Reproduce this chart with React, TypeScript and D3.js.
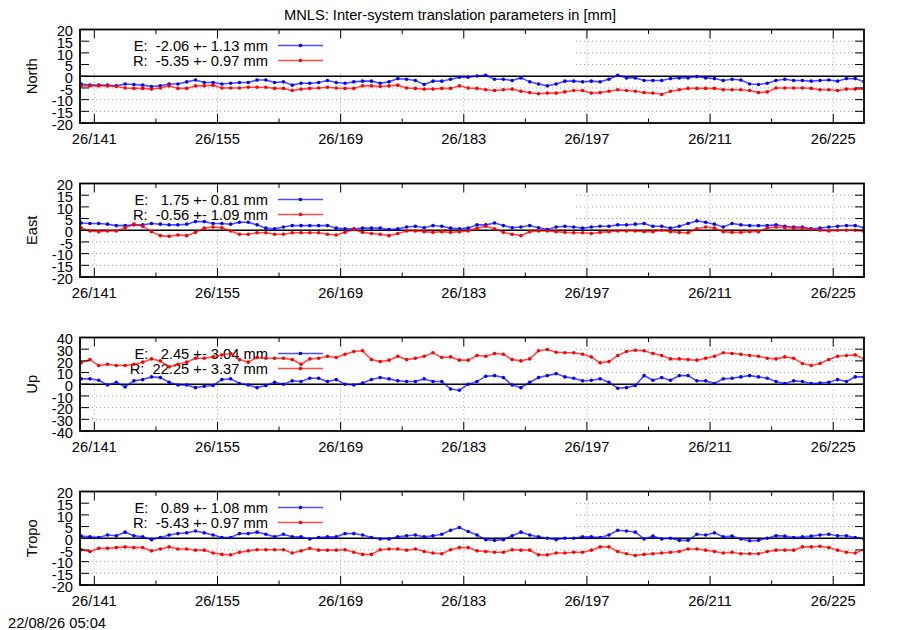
import * as d3 from 'd3';

// day of year (2026), samples taken at noon
const days = [
  139, 140, 141, 142, 143, 144, 145, 146, 147, 148, 149, 150, 151, 152, 153, 154, 155, 156, 157, 158,
  159, 160, 161, 162, 163, 164, 165, 166, 167, 168, 169, 170, 171, 172, 173, 174, 175, 176, 177, 178,
  179, 180, 181, 182, 183, 184, 185, 186, 187, 188, 189, 190, 191, 192, 193, 194, 195, 196, 197, 198,
  199, 200, 201, 202, 203, 204, 205, 206, 207, 208, 209, 210, 211, 212, 213, 214, 215, 216, 217, 218,
  219, 220, 221, 222, 223, 224, 225, 226, 227, 228,
];

const northE = [
  -3.3, -3.8, -3.8, -3.8, -4.1, -3.3, -3.5, -3.8, -4.4, -4.1, -3.3, -3.3, -2.4, -1.6, -2.7, -2.7, -3.3, -3.0, -2.7, -2.7,
  -1.6, -1.6, -2.7, -2.4, -3.8, -3.0, -3.0, -2.7, -1.8, -2.7, -3.0, -2.4, -2.1, -2.1, -3.0, -2.4, -1.0, -1.3, -1.8, -3.5,
  -2.1, -2.1, -1.3, -0.4, -0.4, 0.1, 0.4, -1.3, -1.3, -1.8, -0.7, -2.4, -3.3, -4.1, -3.3, -2.1, -2.1, -2.4, -2.1, -2.4,
  -1.3, 0.4, -0.7, -0.7, -1.8, -1.8, -1.8, -1.0, -0.7, -0.7, -0.1, -0.7, -1.0, -1.8, -1.3, -1.6, -3.3, -3.5, -3.0, -1.8,
  -1.3, -1.8, -1.8, -2.1, -1.8, -1.6, -2.1, -1.0, -1.0, -2.4,
];
const northR = [
  -4.1, -4.1, -4.1, -4.1, -4.4, -5.0, -5.2, -5.2, -5.5, -5.0, -4.1, -5.2, -5.2, -4.1, -4.1, -3.8, -5.0, -5.0, -5.0, -4.7,
  -4.7, -4.7, -5.2, -5.2, -6.1, -5.5, -5.2, -5.0, -4.7, -5.0, -5.2, -5.2, -4.1, -4.1, -4.4, -4.1, -3.8, -5.0, -5.2, -5.5,
  -5.5, -5.2, -5.2, -4.1, -5.0, -5.2, -5.8, -6.1, -5.8, -5.5, -6.4, -7.0, -7.5, -7.2, -7.2, -6.7, -6.1, -6.1, -7.2, -7.0,
  -6.4, -5.8, -6.1, -6.4, -7.0, -7.2, -7.8, -6.4, -5.8, -5.2, -5.2, -5.2, -5.2, -5.8, -5.8, -5.8, -6.1, -7.0, -6.7, -5.0,
  -5.0, -5.0, -5.0, -5.2, -5.8, -5.8, -6.1, -5.5, -5.5, -5.5,
];
const eastE = [
  3.1, 2.9, 2.9, 2.6, 2.0, 2.0, 2.3, 2.3, 2.9, 2.6, 2.3, 2.3, 2.6, 3.7, 3.7, 2.9, 2.9, 2.6, 3.4, 3.4,
  2.3, 0.9, 0.6, 1.4, 2.0, 2.0, 2.0, 2.0, 2.0, 0.9, 0.6, 0.6, 0.9, 0.9, 0.9, 0.3, 0.6, 1.4, 1.7, 1.1,
  2.0, 1.7, 0.9, 0.6, 0.9, 2.3, 2.3, 3.1, 2.0, 1.1, 1.4, 2.0, 1.1, 0.3, 1.4, 1.7, 1.4, 0.9, 1.4, 1.7,
  1.7, 2.3, 2.3, 2.6, 2.9, 1.7, 1.7, 0.9, 1.7, 2.9, 4.0, 3.4, 2.6, 1.4, 2.9, 2.3, 2.0, 2.0, 2.0, 2.3,
  1.7, 1.4, 1.4, 0.6, 0.9, 1.4, 1.7, 2.0, 2.0, 1.1,
];
const eastR = [
  1.1, -0.3, -0.6, -0.3, -0.3, 1.1, 2.6, 1.7, -0.6, -2.3, -2.6, -2.0, -2.3, -0.9, 0.9, 1.4, 1.1, -0.3, -1.7, -1.7,
  -1.1, -1.1, -1.7, -1.7, -1.1, -1.1, -1.1, -1.1, -1.7, -2.0, -0.9, 0.3, -0.9, -1.4, -1.7, -2.3, -1.4, -0.3, -0.3, -0.6,
  -0.9, -0.6, -0.9, -0.6, -0.3, 0.9, 1.7, 0.6, -0.9, -1.7, -2.3, -0.6, -0.3, -0.3, -0.6, -0.9, -1.1, -1.1, -1.4, -0.9,
  -0.6, -0.3, -0.3, -0.3, -0.6, -0.6, 0.0, -0.6, -0.9, -1.1, 0.6, 1.4, 0.9, -0.6, -0.9, -0.9, -0.6, -0.6, 0.9, 1.4,
  1.1, 0.9, 0.9, 0.3, 0.0, -0.3, 0.0, 0.0, 0.0, -0.6,
];
const upE = [
  4.6, 4.6, 3.4, -0.6, 1.7, -2.3, 2.9, 4.0, 6.3, 5.7, 1.7, -0.6, -0.6, -2.9, -1.7, -1.1, 4.0, 4.6, 0.6, -0.6,
  -2.9, -1.1, 1.7, 0.0, 2.9, 2.3, 5.1, 5.1, 2.3, 4.0, 0.0, -0.6, 1.1, 4.0, 5.7, 4.6, 2.9, 2.3, 2.3, 4.6,
  2.3, 2.3, -4.0, -5.1, 0.0, 2.3, 6.9, 7.4, 5.7, -0.6, -2.9, 1.7, 5.7, 7.4, 9.1, 6.3, 5.1, 2.9, 3.4, 4.6,
  1.7, -3.4, -2.9, -1.1, 7.4, 3.4, 5.7, 3.4, 7.4, 7.4, 2.9, 2.9, 0.6, 4.6, 5.1, 6.3, 7.4, 6.3, 5.1, 2.3,
  0.6, 2.9, 2.3, 0.6, 1.1, 1.7, 4.0, 2.3, 6.3, 6.3,
];
const upR = [
  18.3, 21.1, 16.0, 17.1, 16.0, 16.0, 17.1, 18.9, 21.7, 20.0, 14.9, 17.1, 18.9, 22.3, 22.3, 23.4, 25.1, 26.3, 21.1, 18.9,
  22.9, 22.3, 22.3, 22.3, 21.1, 17.1, 21.7, 22.3, 24.0, 22.9, 25.7, 28.0, 28.6, 21.1, 19.4, 20.6, 24.0, 21.1, 22.3, 24.0,
  26.9, 22.9, 23.4, 20.6, 20.6, 24.6, 24.0, 26.3, 25.7, 21.1, 20.0, 21.7, 28.6, 29.7, 27.4, 26.9, 26.9, 25.7, 23.4, 18.3,
  19.4, 24.6, 28.0, 29.1, 28.6, 26.3, 24.6, 21.7, 21.7, 21.1, 20.6, 22.3, 24.0, 26.9, 26.3, 25.7, 24.6, 24.0, 22.3, 21.7,
  23.4, 22.3, 17.7, 16.0, 17.7, 21.1, 24.0, 24.6, 25.1, 21.7,
];
const tropoE = [
  0.9, 0.6, 0.3, 1.4, 1.1, 2.6, 1.1, 0.6, -0.6, 0.3, 1.4, 2.0, 2.3, 3.1, 2.3, 1.4, 0.3, 0.3, 2.0, 2.0,
  2.6, 1.7, 0.6, 1.7, 0.6, 0.6, -0.3, 0.3, 0.6, 0.6, 2.0, 2.0, 1.4, 0.3, -0.3, -0.3, 0.6, 1.1, 1.4, 0.6,
  1.1, 1.7, 3.4, 4.6, 2.9, 1.4, -0.6, -0.9, -0.6, 1.1, 2.6, 1.4, 0.6, 0.0, -0.6, 0.0, 0.0, 0.6, 0.6, 0.3,
  1.4, 3.4, 3.1, 2.6, -0.3, 0.9, -0.3, 0.0, -0.9, -0.9, 1.7, 1.4, 2.3, 0.6, 0.9, -0.3, -1.1, -0.9, 0.0, 1.1,
  0.9, 0.3, 0.6, 0.9, 1.4, 1.7, 1.1, 1.1, 0.3, -0.3,
];
const tropoR = [
  -4.9, -5.7, -4.3, -4.3, -4.0, -3.7, -4.0, -4.0, -5.4, -4.6, -3.7, -4.6, -4.6, -5.1, -5.1, -6.3, -6.9, -7.1, -6.0, -5.4,
  -4.9, -4.9, -4.9, -4.9, -6.3, -5.4, -4.3, -5.1, -5.1, -5.1, -4.9, -6.0, -6.9, -6.9, -4.9, -4.6, -4.6, -5.1, -4.6, -5.7,
  -6.3, -6.6, -4.9, -4.0, -4.0, -5.4, -5.7, -6.0, -6.0, -4.9, -5.1, -5.1, -7.1, -7.1, -6.3, -6.3, -6.0, -6.0, -5.1, -3.7,
  -3.7, -5.7, -6.6, -7.4, -6.9, -6.6, -6.3, -6.0, -5.7, -4.6, -4.6, -5.1, -5.7, -6.3, -6.0, -6.6, -6.6, -6.6, -5.7, -5.1,
  -5.1, -5.1, -3.7, -3.7, -3.4, -4.0, -5.1, -6.0, -6.3, -4.9,
];

const panelNames = ['North', 'East', 'Up', 'Tropo'];
const seriesE = [northE, eastE, upE, tropoE];
const seriesR = [northR, eastR, upR, tropoR];
const legendE = ['E:  -2.06 +- 1.13 mm', 'E:   1.75 +- 0.81 mm', 'E:   2.45 +- 3.04 mm', 'E:   0.89 +- 1.08 mm'];
const legendR = ['R:  -5.35 +- 0.97 mm', 'R:  -0.56 +- 1.09 mm', 'R:  22.25 +- 3.37 mm', 'R:  -5.43 +- 0.97 mm'];
const yLimits = [20, 20, 40, 20];
const yStep = [5, 5, 10, 5];
const majorDays = [141, 155, 169, 183, 197, 211, 225];
const minorDays = [148, 162, 176, 190, 204, 218];

const title = 'MNLS: Inter-system translation parameters in [mm]';
const stamp = '22/08/26 05:04';

const W = 900;
const H = 630;
const left = 80;
const right = 864;
const panelTops = [29.5, 183.5, 337.5, 491.5];
const panelH = 93.5;
const font = '"Liberation Sans", Arial, Helvetica, sans-serif';
const fs = 14.7;
const blue = '#0000ff';
const red = '#ff0000';

const x = d3.scaleLinear().domain([139.37, 228.5]).range([left, right]);

function Panel({ k }: { k: number }) {
  const top = panelTops[k];
  const bottom = top + panelH;
  const lim = yLimits[k];
  const y = d3.scaleLinear().domain([-lim, lim]).range([bottom, top]);
  const yTicks = d3.range(-lim, lim + 0.001, yStep[k]);
  const line = d3
    .line<number>()
    .x((_, i) => x(days[i] + 0.5))
    .y((v) => y(v));
  const clipId = `clip-${k}`;
  const legendRight = 268;
  const rows = [
    { label: legendE[k], color: blue, dy: 16 },
    { label: legendR[k], color: red, dy: 31 },
  ];

  return (
    <g>
      <defs>
        <clipPath id={clipId}>
          <rect x={left} y={top} width={right - left} height={panelH} />
        </clipPath>
      </defs>
      {/* grid */}
      <g stroke="#a0a0a0" strokeWidth={1} strokeDasharray="1,3">
        {majorDays.map((d) => (
          <line key={'gx' + d} x1={x(d)} x2={x(d)} y1={top} y2={bottom} />
        ))}
        {yTicks
          .filter((t) => t > -lim && t < lim)
          .map((t) => (
            <line key={'gy' + t} x1={left} x2={right} y1={y(t)} y2={y(t)} />
          ))}
      </g>
      {/* key box */}
      <rect x={left + 1} y={top + 1} width={573 - left} height={40} fill="#fff" />
      {rows.map((r) => (
        <g key={r.label}>
          <text
            x={legendRight}
            y={top + r.dy}
            dy="0.35em"
            textAnchor="end"
            fontSize={fs}
            style={{ whiteSpace: 'pre' }}
          >
            {r.label}
          </text>
          <line x1={278} x2={323} y1={top + r.dy} y2={top + r.dy} stroke={r.color} strokeOpacity={0.7} strokeWidth={1.6} />
          <circle cx={300.5} cy={top + r.dy} r={1.8} fill={r.color} />
        </g>
      ))}
      {/* zero axis */}
      <line x1={left} x2={right} y1={y(0)} y2={y(0)} stroke="#000" strokeWidth={1.4} />
      {/* data */}
      <g clipPath={`url(#${clipId})`}>
        {[
          { vals: seriesE[k], color: blue },
          { vals: seriesR[k], color: red },
        ].map((s, si) => (
          <g key={si}>
            <path d={line(s.vals) ?? ''} fill="none" stroke={s.color} strokeOpacity={0.7} strokeWidth={1.6} />
            {s.vals.map((v, i) => (
              <circle key={i} cx={x(days[i] + 0.5)} cy={y(v)} r={1.8} fill={s.color} />
            ))}
          </g>
        ))}
      </g>
      {/* border and ticks */}
      <rect x={left} y={top} width={right - left} height={panelH} fill="none" stroke="#000" strokeWidth={1.8} />
      <g stroke="#000" strokeWidth={1}>
        {majorDays.map((d) => (
          <g key={'mx' + d}>
            <line x1={x(d)} x2={x(d)} y1={bottom} y2={bottom - 9} />
            <line x1={x(d)} x2={x(d)} y1={top} y2={top + 9} />
          </g>
        ))}
        {minorDays.map((d) => (
          <g key={'nx' + d}>
            <line x1={x(d)} x2={x(d)} y1={bottom} y2={bottom - 4.5} />
            <line x1={x(d)} x2={x(d)} y1={top} y2={top + 4.5} />
          </g>
        ))}
        {yTicks.map((t) => (
          <g key={'ty' + t}>
            <line x1={left} x2={left + 9} y1={y(t)} y2={y(t)} />
            <line x1={right} x2={right - 9} y1={y(t)} y2={y(t)} />
          </g>
        ))}
      </g>
      {yTicks.map((t) => (
        <text key={'ly' + t} x={73} y={y(t) + 1.5} dy="0.35em" textAnchor="end" fontSize={fs}>
          {t}
        </text>
      ))}
      {majorDays.map((d) => (
        <text key={'lx' + d} x={x(d)} y={bottom + 16} dy="0.35em" textAnchor="middle" fontSize={fs}>
          {`26/${d}`}
        </text>
      ))}
      <text
        transform={`translate(32,${top + panelH / 2}) rotate(-90)`}
        dy="0.35em"
        textAnchor="middle"
        fontSize={fs}
      >
        {panelNames[k]}
      </text>
    </g>
  );
}

export default function App() {
  return (
    <svg
      width={W}
      height={H}
      style={{ position: 'absolute', left: 0, top: 0, background: '#fff' }}
      fontFamily={font}
    >
      <rect width={W} height={H} fill="#fff" />
      <text x={450} y={15} dy="0.35em" textAnchor="middle" fontSize={fs}>
        {title}
      </text>
      {panelNames.map((_, k) => (
        <Panel key={k} k={k} />
      ))}
      <text x={8} y={623} dy="0.35em" fontSize={fs}>
        {stamp}
      </text>
    </svg>
  );
}
